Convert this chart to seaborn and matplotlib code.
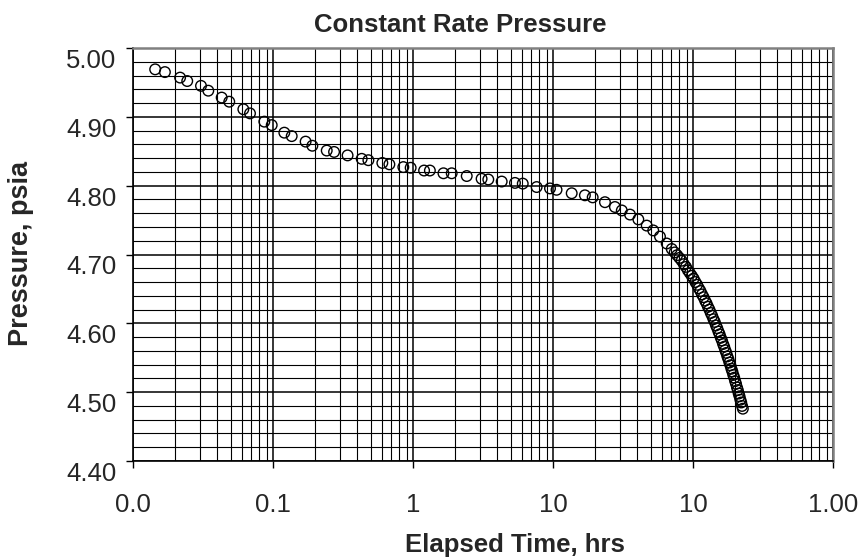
import matplotlib
matplotlib.use("Agg")
import matplotlib.pyplot as plt
import matplotlib.ticker as mticker
from matplotlib.transforms import ScaledTranslation
import seaborn as sns
import pandas as pd

# Elapsed time (hrs) and measured pressure (psia) for the constant-rate test
elapsed_hrs = [
    0.0144, 0.0169, 0.0217, 0.0244, 0.0306, 0.0345, 0.0430, 0.0487,
    0.0614, 0.0685, 0.0867, 0.0979, 0.1205, 0.136, 0.171, 0.191,
    0.242, 0.273, 0.341, 0.430, 0.480, 0.604, 0.678, 0.853,
    0.962, 1.20, 1.32, 1.65, 1.89, 2.42, 3.09, 3.45,
    4.30, 5.35, 6.08, 7.64, 9.52, 10.6, 13.6, 16.9,
    19.2, 23.5, 27.7, 31.0, 35.5, 40.7, 46.7, 52.0,
    58.1, 64.9, 70.5, 74, 77, 80, 83, 86,
    89, 92, 95, 98, 101, 104, 107, 110,
    113, 116, 119, 122, 125, 128, 131, 134,
    137, 140, 143, 146, 149, 152, 155, 158,
    161, 164, 167, 170, 173, 176, 179, 182,
    185, 188, 191, 194, 197, 200, 203, 206,
    209, 212, 215, 218, 221, 224, 227,
]
pressure_psia = [
    4.969, 4.965, 4.957, 4.952, 4.945, 4.938, 4.928, 4.922,
    4.911, 4.905, 4.893, 4.888, 4.877, 4.872, 4.864, 4.858,
    4.851, 4.849, 4.844, 4.839, 4.837, 4.833, 4.831, 4.827,
    4.826, 4.822, 4.822, 4.818, 4.818, 4.814, 4.810, 4.809,
    4.806, 4.804, 4.803, 4.798, 4.796, 4.794, 4.789, 4.786,
    4.783, 4.776, 4.769, 4.764, 4.758, 4.751, 4.742, 4.735,
    4.726, 4.716, 4.708, 4.703, 4.699, 4.695, 4.691, 4.686,
    4.682, 4.677, 4.673, 4.669, 4.665, 4.660, 4.656, 4.651,
    4.647, 4.642, 4.638, 4.633, 4.629, 4.624, 4.620, 4.615,
    4.611, 4.606, 4.602, 4.597, 4.593, 4.588, 4.584, 4.579,
    4.575, 4.570, 4.566, 4.561, 4.557, 4.552, 4.548, 4.543,
    4.539, 4.534, 4.530, 4.525, 4.521, 4.516, 4.512, 4.507,
    4.503, 4.498, 4.494, 4.489, 4.485, 4.480, 4.476,
]

x_ticks = [0.01, 0.1, 1, 10, 100, 1000]
x_tick_labels = ["0.0", "0.1", "1", "10", "10", "1.00"]
y_ticks = [4.40, 4.50, 4.60, 4.70, 4.80, 4.90, 5.00]
y_tick_labels = ["4.40", "4.50", "4.60", "4.70", "4.80", "4.90", "5.00"]

df = pd.DataFrame({"Elapsed Time, hrs": elapsed_hrs, "Pressure, psia": pressure_psia})

sns.set_style("white")
plt.rcParams["font.family"] = ["Liberation Sans", "DejaVu Sans"]

W, H = 861, 558
fig = plt.figure(figsize=(W / 100, H / 100), dpi=100)
ax = fig.add_axes([133 / W, (H - 461) / H, 700 / W, 413 / H])

ax.set_xscale("log")
ax.set_xlim(0.01, 1000)
ax.set_ylim(4.40, 5.00)

# grid: decades / 0.10 psi major lines, 2..9 and 0.02 psi minor lines
ax.xaxis.set_major_locator(mticker.FixedLocator(x_ticks))
ax.xaxis.set_major_formatter(mticker.FixedFormatter(x_tick_labels))
ax.xaxis.set_minor_locator(mticker.LogLocator(base=10, subs=range(2, 10), numticks=20))
ax.xaxis.set_minor_formatter(mticker.NullFormatter())
ax.yaxis.set_major_locator(mticker.FixedLocator(y_ticks))
ax.yaxis.set_major_formatter(mticker.FixedFormatter(y_tick_labels))
ax.yaxis.set_minor_locator(mticker.MultipleLocator(0.02))

ax.grid(which="major", color="black", linewidth=1.1)
ax.grid(which="minor", color="black", linewidth=0.8)
ax.set_axisbelow(True)

sns.scatterplot(
    data=df, x="Elapsed Time, hrs", y="Pressure, psia", ax=ax,
    marker="o", s=58, facecolor="none", edgecolor="black", linewidth=1.0,
    zorder=3, clip_on=False,
)

ax.set_xlabel("")
ax.set_ylabel("")

for side in ("left", "bottom"):
    ax.spines[side].set_color("black")
    ax.spines[side].set_linewidth(1.2)
for side in ("top", "right"):
    ax.spines[side].set_color("#808080")
    ax.spines[side].set_linewidth(1.8)

ax.tick_params(axis="x", which="major", direction="out", length=5, width=1.0,
               color="black", pad=18, labelsize=18.5, bottom=True)
ax.tick_params(axis="y", which="major", direction="out", length=5, width=1.0,
               color="black", pad=7, labelsize=18.5, left=True)
ax.tick_params(which="minor", length=0)

# y labels sit a little below their gridlines
shift = ScaledTranslation(0, -10.5 / 100, fig.dpi_scale_trans)
for lab in ax.get_yticklabels():
    lab.set_transform(lab.get_transform() + shift)

fig.text(460 / W, (H - 31.7) / H, "Constant Rate Pressure", ha="center",
         va="baseline", fontsize=18.5, fontweight="bold")
fig.text(515 / W, (H - 551.7) / H, "Elapsed Time, hrs", ha="center",
         va="baseline", fontsize=18.5, fontweight="bold")
fig.text(21 / W, (H - 254) / H, "Pressure, psia", ha="center", va="center",
         rotation=90, fontsize=19.5, fontweight="bold")

fig.savefig("out.png", dpi=100, facecolor="white")
